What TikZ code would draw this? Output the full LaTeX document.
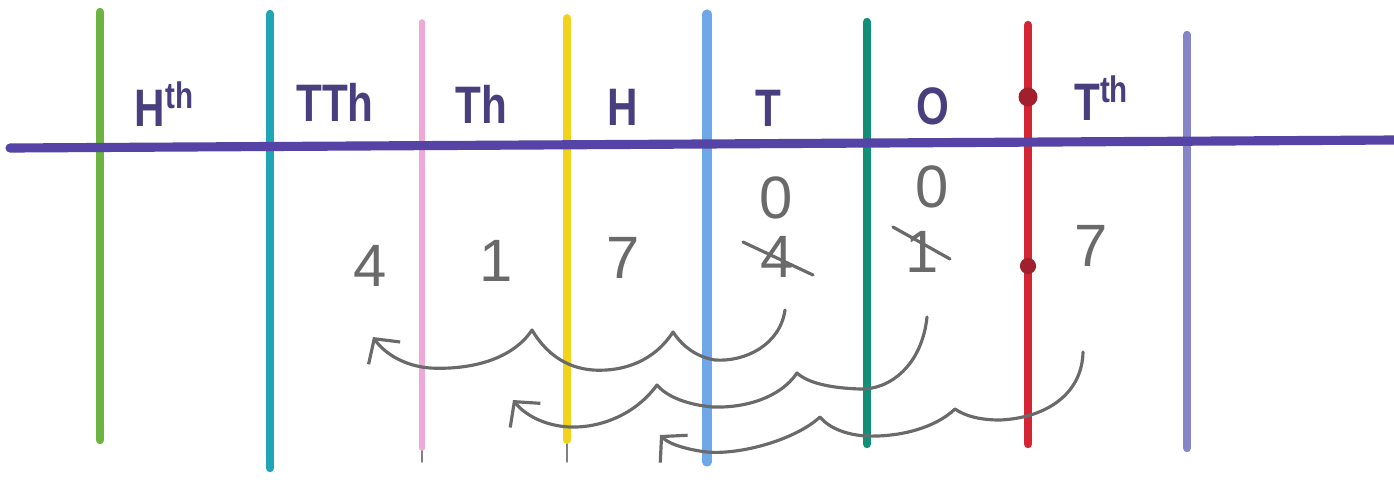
\documentclass[tikz,border=0pt]{standalone}
\usepackage{fontspec}
\setmainfont{Liberation Sans}
\newfontfamily\hand{Liberation Sans}[FakeStretch=0.8]
\usetikzlibrary{arrows.meta}
\definecolor{ink}{HTML}{4A3F7E}
\definecolor{rule}{HTML}{5543A5}
\definecolor{pen}{HTML}{6A6A6A}
\definecolor{c1}{HTML}{6DB33F}
\definecolor{c2}{HTML}{1FA5B5}
\definecolor{c3}{HTML}{F0A8D8}
\definecolor{c4}{HTML}{F2D21B}
\definecolor{c5}{HTML}{6FA8E8}
\definecolor{c6}{HTML}{129077}
\definecolor{c7}{HTML}{D42535}
\definecolor{c8}{HTML}{8585C8}
\definecolor{dot}{HTML}{A0202E}
\begin{document}
\begin{tikzpicture}[x=0.01cm,y=-0.01cm,line cap=round,line join=round]
\useasboundingbox (0,0) rectangle (1394,481);
\tikzset{lbl/.style={text=ink,font=\hand\fontsize{15}{16}\selectfont\bfseries},
	dig/.style={text=pen,font=\fontsize{17}{18}\selectfont},
	arr/.style={pen,line width=0.9pt,-{Straight Barb[length=5pt,width=11pt]}}}
\draw[gray,line width=0.4pt] (422,30) -- (422,462) (567,30) -- (567,462);
\foreach \x/\t/\b/\c/\w in{100/12/440/c1/2.4,270/14/468/c2/2.4,422/22/448/c3/1.6,567/18/440/c4/2.2,707/14/462/c5/2.6,867/22/444/c6/2.4,1028/25/444/c7/2.4,1187/35/448/c8/2.4}{\draw[\c,line width=\w pt] (\x,\t) -- (\x,\b);}
\draw[rule,line width=2.6pt] (10,148) -- (1394,140);
\fill[dot] (1028,97) circle[radius=2.7pt] (1028,266) circle[radius=2.3pt];
\foreach \n/\x/\y/\t in{hth/165/104/H\textsuperscript{th},tth/335/102/TTh,th/481/104/Th,h/623/107/H,t/768/108/T,o/933/106/O,ten/1102/98/T\textsuperscript{th}}{\node[lbl] (\n) at (\x,\y) {\t};}
\node[dig] (d4) at (370,266) {4};
\node[dig] (d1) at (496,261) {1};
\node[dig] (d7) at (623,258) {7};
\node[dig] (e4) at (777,257) {4};
\node[dig] (z4) at (776,198) {0};
\node[dig] (e1) at (922,252) {1};
\node[dig] (z1) at (932,187) {0};
\node[dig] (e7) at (1091,246) {7};
\draw[pen,line width=0.9pt] ([shift={(-34,-15)}]e4.center) -- ([shift={(36,18)}]e4.center);
\draw[pen,line width=0.9pt] ([shift={(-29,-25)}]e1.center) -- ([shift={(28,7)}]e1.center);
\coordinate (s1) at (785,310);
\coordinate (t1) at (373,337);
\coordinate (s2) at (927,317);
\coordinate (t2) at (513,400);
\coordinate (s3) at (1083,352);
\coordinate (t3) at (660,435);
\draw[arr] (s1) .. controls (780,345) and (745,362) .. (715,360) .. controls (697,357) and (683,347) .. (673,332) .. controls (655,360) and (625,372) .. (593,370) .. controls (565,368) and (545,352) .. (532,330) .. controls (512,360) and (470,370) .. (430,368) .. controls (405,366) and (385,354) .. (t1);
\draw[arr] (s2) .. controls (922,365) and (890,390) .. (860,389) .. controls (830,388) and (808,383) .. (797,373) .. controls (780,398) and (745,408) .. (713,407) .. controls (690,405) and (668,398) .. (657,385) .. controls (635,415) and (600,428) .. (570,427) .. controls (545,426) and (525,415) .. (t2);
\draw[arr] (s3) .. controls (1082,395) and (1045,418) .. (1000,420) .. controls (980,420) and (965,416) .. (955,409) .. controls (935,428) and (900,437) .. (867,436) .. controls (845,435) and (828,427) .. (820,417) .. controls (795,440) and (740,455) .. (707,452) .. controls (690,450) and (670,445) .. (t3);
\end{tikzpicture}
\end{document}
